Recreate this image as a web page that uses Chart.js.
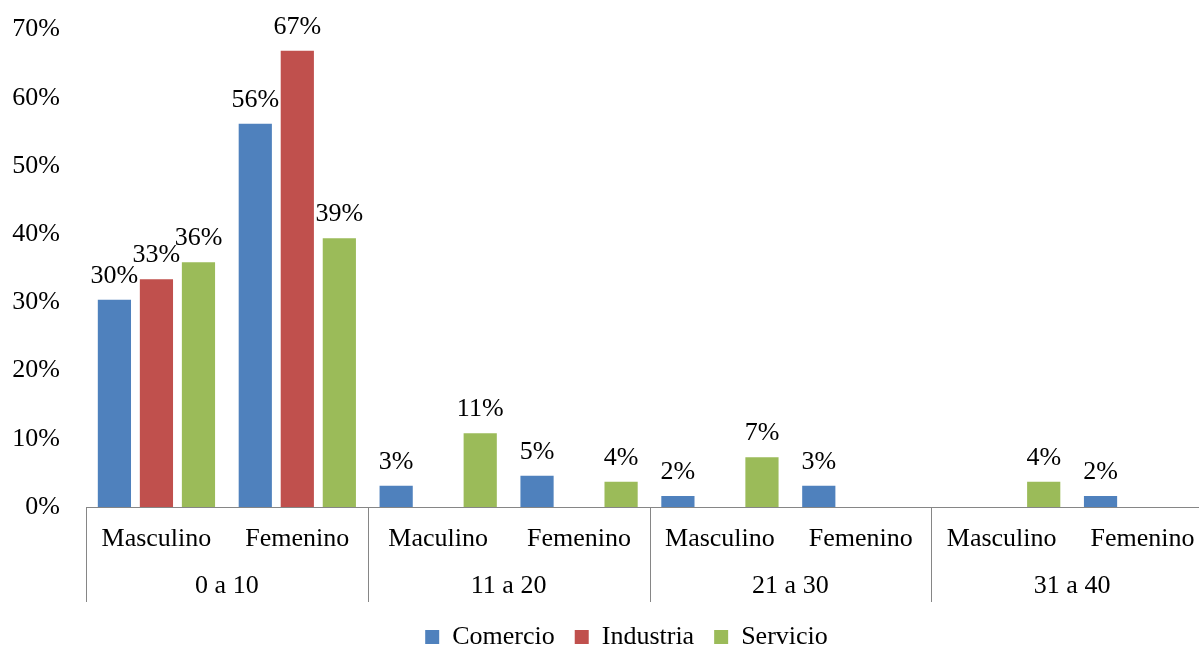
<!DOCTYPE html>
<html>
<head>
<meta charset="utf-8">
<script src="https://cdn.jsdelivr.net/npm/chart.js@4.4.0/dist/chart.umd.min.js"></script>
<style>
  html, body { margin: 0; padding: 0; background: #fff; overflow: hidden; }
  #wrap { width: 1199px; height: 647px; overflow: hidden; }
  #myChart { display: block; margin-top: -4px; }
</style>
</head>
<body>
<div id="wrap"><canvas id="myChart" width="1213" height="664"></canvas></div>
<script>
const subLabels = ["Masculino", "Femenino", "Maculino", "Femenino", "Masculino", "Femenino", "Masculino", "Femenino"];
const groupLabels = ["0 a 10", "11 a 20", "21 a 30", "31 a 40"];
const comercio = [30.4, 56.2, 3.1, 4.6, 1.6, 3.1, null, 1.6];
const industria = [33.4, 66.9, null, null, null, null, null, null];
const servicio = [35.9, 39.4, 10.8, 3.7, 7.3, null, 3.7, null];

const serif = "'Liberation Serif', 'Times New Roman', serif";
Chart.defaults.font.family = serif;
Chart.defaults.font.size = 26;
Chart.defaults.color = "#000";

// value labels above each bar
const barLabels = {
  id: "barLabels",
  afterDatasetsDraw(chart) {
    const ctx = chart.ctx;
    ctx.save();
    ctx.font = "26px " + serif;
    ctx.fillStyle = "#000";
    ctx.textAlign = "center";
    ctx.textBaseline = "alphabetic";
    chart.data.datasets.forEach((ds, i) => {
      const meta = chart.getDatasetMeta(i);
      meta.data.forEach((bar, j) => {
        const v = ds.data[j];
        if (v == null) return;
        ctx.fillText(Math.round(v) + "%", bar.x, bar.y - 17);
      });
    });
    ctx.restore();
  }
};

// second level of the x axis: separators and group names
const groupAxis = {
  id: "groupAxis",
  afterLayout(chart) {
    // legend sits a little right of the canvas centre in the original
    chart.legend.left += 20;
    chart.legend.right += 20;
  },
  afterDraw(chart) {
    const ctx = chart.ctx;
    const x = chart.scales.x;
    const step = x.getPixelForValue(1) - x.getPixelForValue(0);
    ctx.save();
    ctx.strokeStyle = "#868686";
    ctx.lineWidth = 1;
    ctx.font = "26px " + serif;
    ctx.fillStyle = "#000";
    ctx.textAlign = "center";
    ctx.textBaseline = "middle";
    groupLabels.forEach((g, i) => {
      const left = x.getPixelForValue(i * 2) - step / 2;
      const lx = Math.round(left) + 0.5;
      ctx.beginPath();
      ctx.moveTo(lx, x.top);
      ctx.lineTo(lx, x.top + 95);
      ctx.stroke();
      ctx.fillText(g, left + step, x.top + 79);
    });
    ctx.restore();
  }
};

new Chart(document.getElementById("myChart"), {
  type: "bar",
  data: {
    labels: subLabels,
    datasets: [
      { label: "Comercio", data: comercio, backgroundColor: "#4F81BD" },
      { label: "Industria", data: industria, backgroundColor: "#C0504D" },
      { label: "Servicio", data: servicio, backgroundColor: "#9BBB59" }
    ]
  },
  options: {
    responsive: false,
    animation: false,
    layout: { padding: { top: 7, right: 0, left: 0, bottom: 0 } },
    datasets: { bar: { categoryPercentage: 0.895, barPercentage: 0.79 } },
    plugins: {
      tooltip: { enabled: false },
      legend: {
        position: "bottom",
        labels: { boxWidth: 14, boxHeight: 14, padding: 20, color: "#000", font: { size: 26 } }
      }
    },
    scales: {
      x: {
        grid: { display: false },
        border: { display: true, color: "#868686", width: 1 },
        ticks: { padding: 9, maxRotation: 0, autoSkip: false },
        afterFit(scale) { scale.height = 97; }
      },
      y: {
        min: 0,
        max: 70,
        grid: { display: false },
        border: { display: false },
        ticks: { stepSize: 10, padding: 18, callback: v => v + "%" },
        afterFit(scale) { scale.width = 86; }
      }
    }
  },
  plugins: [barLabels, groupAxis]
});
</script>
</body>
</html>
